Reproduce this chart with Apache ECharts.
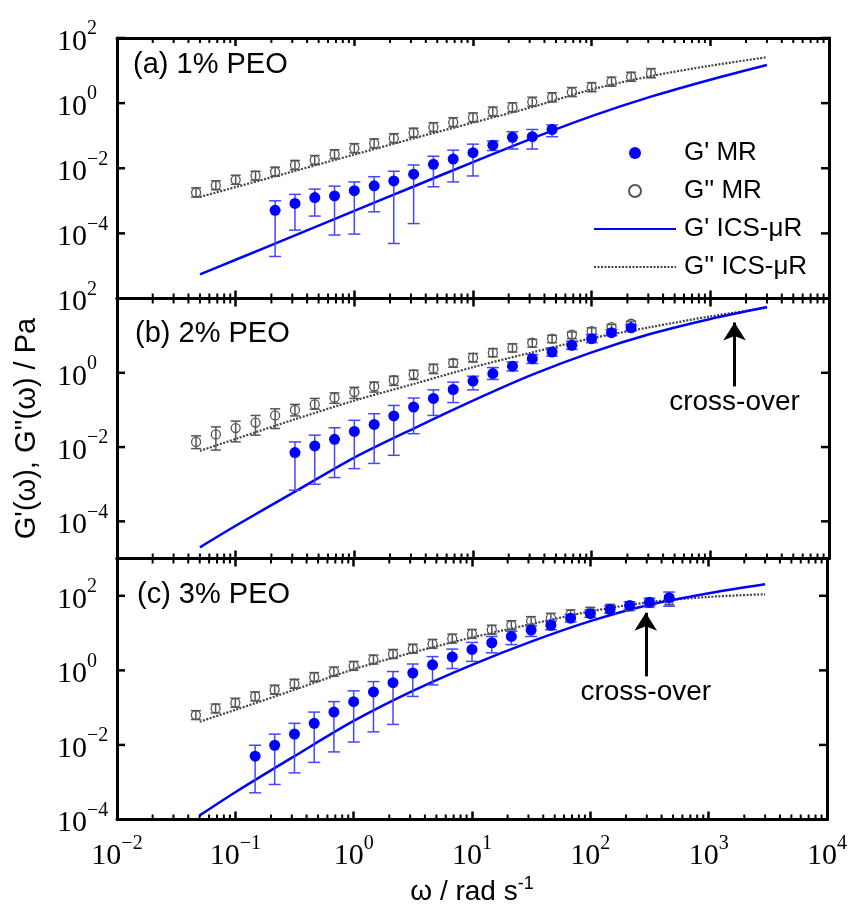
<!DOCTYPE html>
<html>
<head>
<meta charset="utf-8">
<script src="https://cdn.jsdelivr.net/npm/echarts@6/dist/echarts.min.js"></script>
<style>html,body{margin:0;padding:0;background:#fff}#chart{width:850px;height:908px}</style>
</head>
<body>
<div id="chart"></div>
<script>
// measured frequencies (rad/s), shared by all three panels
var omega = [0.0464, 0.0681, 0.1, 0.147, 0.215, 0.316, 0.464, 0.681, 1, 1.47, 2.15, 3.16, 4.64, 6.81, 10, 14.7, 21.5, 31.6, 46.4, 68.1, 100, 147, 215, 316, 464];

// (a) 1% PEO
var gppA   = [1.8e-3, 3.0e-3, 4.4e-3, 5.9e-3, 7.8e-3, 1.26e-2, 1.78e-2, 2.7e-2, 4.1e-2, 5.8e-2, 8.3e-2, 0.123, 0.182, 0.257, 0.363, 0.55, 0.74, 1.10, 1.51, 2.19, 3.09, 4.57, 6.46, 8.3, null];
var gppHiA = [2.5e-3, 4.1e-3, 6.1e-3, 8.1e-3, 1.08e-2, 1.74e-2, 2.46e-2, 3.7e-2, 5.7e-2, 8.0e-2, 0.115, 0.170, 0.251, 0.355, 0.50, 0.76, 1.02, 1.52, 2.08, 3.02, 4.26, 6.3, 8.9, 11.5, null];
var gppLoA = [1.3e-3, 2.2e-3, 3.2e-3, 4.3e-3, 5.7e-3, 9.1e-3, 1.29e-2, 1.96e-2, 2.97e-2, 4.2e-2, 6.0e-2, 8.9e-2, 0.132, 0.186, 0.263, 0.40, 0.54, 0.80, 1.09, 1.59, 2.24, 3.31, 4.68, 6.0, null];
var gpA    = [null, null, null, null, 5.1e-4, 8.3e-4, 1.26e-3, 1.41e-3, 2.04e-3, 2.88e-3, 4.07e-3, 6.6e-3, 1.32e-2, 1.91e-2, 3.0e-2, 5.1e-2, 8.9e-2, 9.3e-2, 0.155, null, null, null, null, null, null];
var gpHiA  = [null, null, null, null, 1.0e-3, 1.58e-3, 2.29e-3, 2.82e-3, 3.8e-3, 5.5e-3, 8.1e-3, 1.26e-2, 2.34e-2, 3.6e-2, 5.5e-2, 6.9e-2, 0.132, 0.155, 0.214, null, null, null, null, null, null];
var gpLoA  = [null, null, null, null, 1.95e-5, 1.26e-4, 3.4e-4, 8.9e-5, 9.5e-5, 4.6e-4, 4.9e-5, 2.0e-4, 2.7e-3, 3.8e-3, 5.8e-3, 3.5e-2, 3.9e-2, 3.9e-2, 9.3e-2, null, null, null, null, null, null];

// (b) 2% PEO
var gppB   = [1.38e-2, 2.19e-2, 3.24e-2, 4.57e-2, 7.1e-2, 0.100, 0.141, 0.214, 0.302, 0.427, 0.63, 0.91, 1.29, 1.86, 2.57, 3.47, 4.68, 6.46, 8.3, 10.7, 13.2, 17.0, 20.9, null, null];
var gppHiB = [2.0e-2, 3.5e-2, 5.0e-2, 7.1e-2, 0.107, 0.141, 0.204, 0.288, 0.407, 0.562, 0.81, 1.17, 1.70, 2.29, 3.31, 4.47, 6.03, 7.94, 10.2, 12.6, 16.2, 20.0, 24.5, null, null];
var gppLoB = [9.1e-3, 8.3e-3, 1.38e-2, 2.09e-2, 3.16e-2, 6.9e-2, 0.105, 0.151, 0.204, 0.302, 0.457, 0.66, 0.95, 1.41, 1.95, 2.69, 3.63, 4.90, 6.46, 8.3, 10.7, 14.5, 17.8, null, null];
var gpB    = [null, null, null, null, null, 7.1e-3, 1.07e-2, 1.62e-2, 2.63e-2, 4.07e-2, 6.9e-2, 0.120, 0.204, 0.355, 0.60, 0.95, 1.51, 2.40, 3.63, 5.50, 8.3, 12.0, 16.2, null, null];
var gpHiB  = [null, null, null, null, null, 1.38e-2, 2.09e-2, 3.31e-2, 5.25e-2, 7.9e-2, 0.132, 0.209, 0.347, 0.56, 0.81, 1.38, 1.95, 3.09, 4.68, 7.08, 10.7, 14.5, 19.5, null, null];
var gpLoB  = [null, null, null, null, null, 6.9e-4, 1.0e-3, 1.51e-3, 2.63e-3, 3.63e-3, 6.0e-3, 2.29e-2, 7.1e-2, 0.158, 0.347, 0.66, 1.12, 1.78, 2.82, 4.27, 6.46, 10.0, 13.5, null, null];

// (c) 3% PEO
var gppC   = [6.3e-2, 9.5e-2, 0.135, 0.200, 0.302, 0.437, 0.66, 0.93, 1.32, 1.95, 2.75, 3.80, 5.13, 7.08, 9.5, 12.3, 16.2, 20.9, 25.7, 31.6, 37.2, 44.7, 52.5, 64.6, 75.9];
var gppHiC = [8.3e-2, 0.125, 0.178, 0.264, 0.399, 0.577, 0.87, 1.23, 1.74, 2.57, 3.63, 5.02, 6.77, 9.35, 12.5, 16.2, 21.4, 27.6, 33.9, 41.7, 49.1, 59.0, 69.3, 85.3, 100];
var gppLoC = [4.8e-2, 7.2e-2, 0.102, 0.152, 0.229, 0.331, 0.50, 0.70, 1.00, 1.48, 2.08, 2.88, 3.89, 5.36, 7.2, 9.3, 12.3, 15.8, 19.5, 23.9, 28.2, 33.9, 39.8, 48.9, 57.5];
var gpC    = [null, null, null, 5.0e-3, 9.8e-3, 1.95e-2, 3.8e-2, 7.6e-2, 0.145, 0.263, 0.468, 0.85, 1.41, 2.29, 3.63, 5.50, 8.1, 12.0, 16.2, 25.1, 33.1, 42.7, 55.0, 67.6, 89.1];
var gpHiC  = [null, null, null, 9.8e-3, 1.95e-2, 3.8e-2, 7.6e-2, 0.145, 0.282, 0.50, 0.93, 1.48, 2.34, 3.72, 5.62, 8.1, 11.2, 15.8, 20.9, 31.6, 41.7, 53.7, 69.2, 85.1, 126];
var gpLoC  = [null, null, null, 5.2e-4, 8.7e-4, 1.78e-3, 3.4e-3, 6.5e-3, 1.20e-2, 2.24e-2, 3.55e-2, 0.200, 0.407, 1.12, 1.74, 2.95, 4.9, 8.1, 12.3, 20.0, 26.3, 33.9, 43.7, 53.7, 52.5];

// ICS-uR model curves
var lineOmega = [0.05, 0.1, 0.316, 1, 3.16, 10, 31.6, 100, 316, 1000, 3000];
var icsGpA  = [5.5e-6, 1.55e-5, 8.7e-5, 4.9e-4, 2.75e-3, 1.55e-2, 8.3e-2, 0.40, 1.58, 5.25, 14.8];
var icsGppA = [1.32e-3, 2.63e-3, 8.3e-3, 2.63e-2, 8.3e-2, 0.251, 0.76, 2.63, 6.76, 14.1, 25.7];
var icsGpB  = [2.0e-5, 7.6e-5, 6.3e-4, 5.2e-3, 3.16e-2, 0.178, 0.89, 3.55, 11.2, 28.2, 58.9];
var icsGppB = [7.9e-3, 1.66e-2, 5.6e-2, 0.178, 0.50, 1.41, 3.55, 8.5, 17.0, 33.1, 56.2];
var icsGpC  = [1.29e-4, 5.4e-4, 5.0e-3, 4.4e-2, 0.282, 1.41, 5.9, 20.9, 57.5, 117, 204];
var icsGppC = [4.2e-2, 8.7e-2, 0.302, 1.07, 3.02, 7.6, 17.4, 38.0, 67.6, 93.3, 110];

// ticks
var xMinorTicks = [0.02, 0.03, 0.04, 0.05, 0.06, 0.07, 0.08, 0.09, 0.2, 0.3, 0.4, 0.5, 0.6, 0.7, 0.8, 0.9,
    2, 3, 4, 5, 6, 7, 8, 9, 20, 30, 40, 50, 60, 70, 80, 90, 200, 300, 400, 500, 600, 700, 800, 900,
    2000, 3000, 4000, 5000, 6000, 7000, 8000, 9000];
var yMajorTicks = [1e-4, 1e-2, 1, 1e2];
var yLabelExp = [-4, -2, 0, 2];

var panelNames = ['(a) 1% PEO', '(b) 2% PEO', '(c) 3% PEO'];
var yMin = [1e-6, 1e-5, 1e-4];
var yMax = [1e2, 1e2, 1e3];

var serif = '"Liberation Serif", "Times New Roman", serif';
var sans = '"Liberation Sans", Arial, sans-serif';
var blue = '#0000ff';
var barBlue = '#4646ff';
var grey = '#555';

var grids = [
    { left: 117, right: 21, top: 38, height: 260.5 },
    { left: 117, right: 21, top: 298.5, height: 260 },
    { left: 117, right: 21, top: 558.5, height: 261 }
];

function expText(e) {
    return '{b|10}{s|' + (e < 0 ? '\u2212' + (-e) : e) + '}';
}
var supRich = {
    b: { fontFamily: serif, fontSize: 30, color: '#000', verticalAlign: 'bottom' },
    s: { fontFamily: serif, fontSize: 20, color: '#000', verticalAlign: 'bottom', padding: [0, 0, 18, 0] }
};

function pairs(xs, ys) {
    var out = [];
    for (var i = 0; i < xs.length; i++) {
        if (ys[i] !== null) out.push([xs[i], ys[i]]);
    }
    return out;
}
function triples(xs, lo, hi) {
    var out = [];
    for (var i = 0; i < xs.length; i++) {
        if (lo[i] !== null) out.push([xs[i], lo[i], hi[i]]);
    }
    return out;
}

function errRender(cap, color) {
    return function (params, api) {
        var top = api.coord([api.value(0), api.value(2)]);
        var bot = api.coord([api.value(0), api.value(1)]);
        var st = { stroke: color, lineWidth: 1.5 };
        return {
            type: 'group',
            children: [
                { type: 'line', shape: { x1: top[0], y1: top[1], x2: bot[0], y2: bot[1] }, style: st },
                { type: 'line', shape: { x1: top[0] - cap, y1: top[1], x2: top[0] + cap, y2: top[1] }, style: st },
                { type: 'line', shape: { x1: bot[0] - cap, y1: bot[1], x2: bot[0] + cap, y2: bot[1] }, style: st }
            ]
        };
    };
}
// minor x ticks on top and bottom edges of a panel
function xTickRender(params, api) {
    var cs = params.coordSys;
    var x = api.coord([api.value(0), api.value(1)])[0];
    var bottom = cs.y + cs.height;
    var st = { stroke: '#000', lineWidth: 2 };
    return {
        type: 'group',
        children: [
            { type: 'line', shape: { x1: x, y1: bottom, x2: x, y2: bottom - 5 }, style: st },
            { type: 'line', shape: { x1: x, y1: cs.y, x2: x, y2: cs.y + 5 }, style: st }
        ]
    };
}
// major y ticks on left and right edges
function yTickRender(params, api) {
    var cs = params.coordSys;
    var y = api.coord([api.value(0), api.value(1)])[1];
    var right = cs.x + cs.width;
    var st = { stroke: '#000', lineWidth: 2.5 };
    return {
        type: 'group',
        children: [
            { type: 'line', shape: { x1: cs.x, y1: y, x2: cs.x + 8, y2: y }, style: st },
            { type: 'line', shape: { x1: right, y1: y, x2: right - 8, y2: y }, style: st }
        ]
    };
}

var xAxes = [], yAxes = [], series = [];
var panels = [
    { gpp: gppA, gppHi: gppHiA, gppLo: gppLoA, gp: gpA, gpHi: gpHiA, gpLo: gpLoA, icsGp: icsGpA, icsGpp: icsGppA },
    { gpp: gppB, gppHi: gppHiB, gppLo: gppLoB, gp: gpB, gpHi: gpHiB, gpLo: gpLoB, icsGp: icsGpB, icsGpp: icsGppB },
    { gpp: gppC, gppHi: gppHiC, gppLo: gppLoC, gp: gpC, gpHi: gpHiC, gpLo: gpLoC, icsGp: icsGpC, icsGpp: icsGppC }
];
// cross-over arrows: [omega, arrow start, arrow tip]
var crossOver = [null, [1600, 0.43, 22.6], [294, 0.69, 35]];

for (var i = 0; i < 3; i++) {
    ['bottom', 'top'].forEach(function (pos) {
        xAxes.push({
            type: 'log', logBase: 10, gridIndex: i, position: pos,
            min: 0.01, max: 10000, interval: 1,
            axisLine: { show: true, lineStyle: { color: '#000', width: 3 } },
            axisTick: { show: true, inside: true, length: 8, lineStyle: { color: '#000', width: 2.5 } },
            splitLine: { show: false },
            axisLabel: {
                show: i === 2 && pos === 'bottom', margin: 14,
                formatter: function (v) { return expText(Math.round(Math.log10(v))); },
                rich: supRich
            },
            name: i === 2 && pos === 'bottom' ? '{a|\u03c9 / rad s}{s|-1}' : '',
            nameLocation: 'middle', nameGap: 56,
            nameTextStyle: {
                rich: {
                    a: { fontFamily: sans, fontSize: 28, color: '#000', verticalAlign: 'bottom' },
                    s: { fontFamily: sans, fontSize: 18, color: '#000', verticalAlign: 'bottom', padding: [0, 0, 13, 0] }
                }
            }
        });
    });
    ['left', 'right'].forEach(function (pos) {
        yAxes.push({
            type: 'log', logBase: 10, gridIndex: i, position: pos,
            min: yMin[i], max: yMax[i], interval: 1,
            axisLine: { show: true, lineStyle: { color: '#000', width: 3 } },
            axisTick: { show: false },
            splitLine: { show: false },
            axisLabel: {
                show: pos === 'left', align: 'left', margin: 60,
                formatter: function (v) {
                    var e = Math.round(Math.log10(v));
                    return yLabelExp.indexOf(e) < 0 ? '' : expText(e);
                },
                rich: supRich
            },
            name: i === 1 && pos === 'left' ? "G'(\u03c9), G''(\u03c9) / Pa" : '',
            nameLocation: 'middle', nameRotate: 90, nameGap: 76,
            nameTextStyle: { fontFamily: sans, fontSize: 29, color: '#000' }
        });
    });

    var p = panels[i];
    var gpLine = {
        name: "G' ICS-\u03bcR", type: 'line', xAxisIndex: 2 * i, yAxisIndex: 2 * i,
        data: pairs(lineOmega, p.icsGp), symbol: 'none', smooth: 0.3,
        lineStyle: { color: blue, width: 2.5 }, itemStyle: { color: blue }, z: 3
    };
    if (crossOver[i]) {
        var c = crossOver[i];
        gpLine.markLine = {
            silent: true, symbol: ['none', 'arrow'], symbolSize: [17, 18],
            lineStyle: { color: '#000', width: 3, type: 'solid' },
            label: { show: true, position: 'start', distance: 2, formatter: 'cross-over', fontFamily: sans, fontSize: 28, color: '#000' },
            data: [[{ coord: [c[0], c[1]] }, { coord: [c[0], c[2]] }]]
        };
    }
    series.push(
        {
            name: "G'' ICS-\u03bcR", type: 'line', xAxisIndex: 2 * i, yAxisIndex: 2 * i,
            data: pairs(lineOmega, p.icsGpp), symbol: 'none', smooth: 0.3,
            lineStyle: { color: '#444', width: 2.2, type: [2, 1.5] }, itemStyle: { color: '#444' }, z: 3
        },
        gpLine,
        {
            type: 'custom', xAxisIndex: 2 * i, yAxisIndex: 2 * i,
            data: triples(omega, p.gppLo, p.gppHi), encode: { x: 0, y: [1, 2] },
            renderItem: errRender(5, grey), z: 4
        },
        {
            name: "G'' MR", type: 'scatter', xAxisIndex: 2 * i, yAxisIndex: 2 * i,
            data: pairs(omega, p.gpp), symbol: 'circle', symbolSize: 9,
            itemStyle: { color: 'rgba(255,255,255,0)', borderColor: grey, borderWidth: 1.3, opacity: 1 }, z: 5
        },
        {
            type: 'custom', xAxisIndex: 2 * i, yAxisIndex: 2 * i,
            data: triples(omega, p.gpLo, p.gpHi), encode: { x: 0, y: [1, 2] },
            renderItem: errRender(6, barBlue), z: 6
        },
        {
            name: "G' MR", type: 'scatter', xAxisIndex: 2 * i, yAxisIndex: 2 * i,
            data: pairs(omega, p.gp), symbol: 'circle', symbolSize: 11,
            itemStyle: { color: blue, opacity: 1 }, z: 7
        },
        {
            type: 'custom', xAxisIndex: 2 * i, yAxisIndex: 2 * i, clip: false,
            data: pairs(xMinorTicks, xMinorTicks.map(function () { return 1; })),
            encode: { x: 0, y: 1 },
            renderItem: xTickRender, z: 8
        },
        {
            type: 'custom', xAxisIndex: 2 * i, yAxisIndex: 2 * i, clip: false,
            data: pairs(yMajorTicks.map(function () { return 1; }), yMajorTicks),
            encode: { x: 0, y: 1 },
            renderItem: yTickRender, z: 8
        }
    );
}

var chart = echarts.init(document.getElementById('chart'));
chart.setOption({
    animation: false,
    grid: grids,
    xAxis: xAxes,
    yAxis: yAxes,
    legend: {
        orient: 'vertical', left: 593, top: 140, padding: 0,
        itemWidth: 82, itemHeight: 12, itemGap: 12, selectedMode: false,
        textStyle: { fontFamily: sans, fontSize: 26, color: '#000', lineHeight: 26, padding: [0, 0, 0, 3] },
        data: [
            "G' MR",
            "G'' MR",
            { name: "G' ICS-\u03bcR", itemStyle: { opacity: 0 } },
            { name: "G'' ICS-\u03bcR", itemStyle: { opacity: 0 } }
        ]
    },
    graphic: [
        { type: 'text', left: 133, top: 50, style: { text: panelNames[0], font: '29px ' + sans, fill: '#000' } },
        { type: 'text', left: 135, top: 319, style: { text: panelNames[1], font: '29px ' + sans, fill: '#000' } },
        { type: 'text', left: 137, top: 580, style: { text: panelNames[2], font: '29px ' + sans, fill: '#000' } }
    ],
    series: series
});
</script>
</body>
</html>
